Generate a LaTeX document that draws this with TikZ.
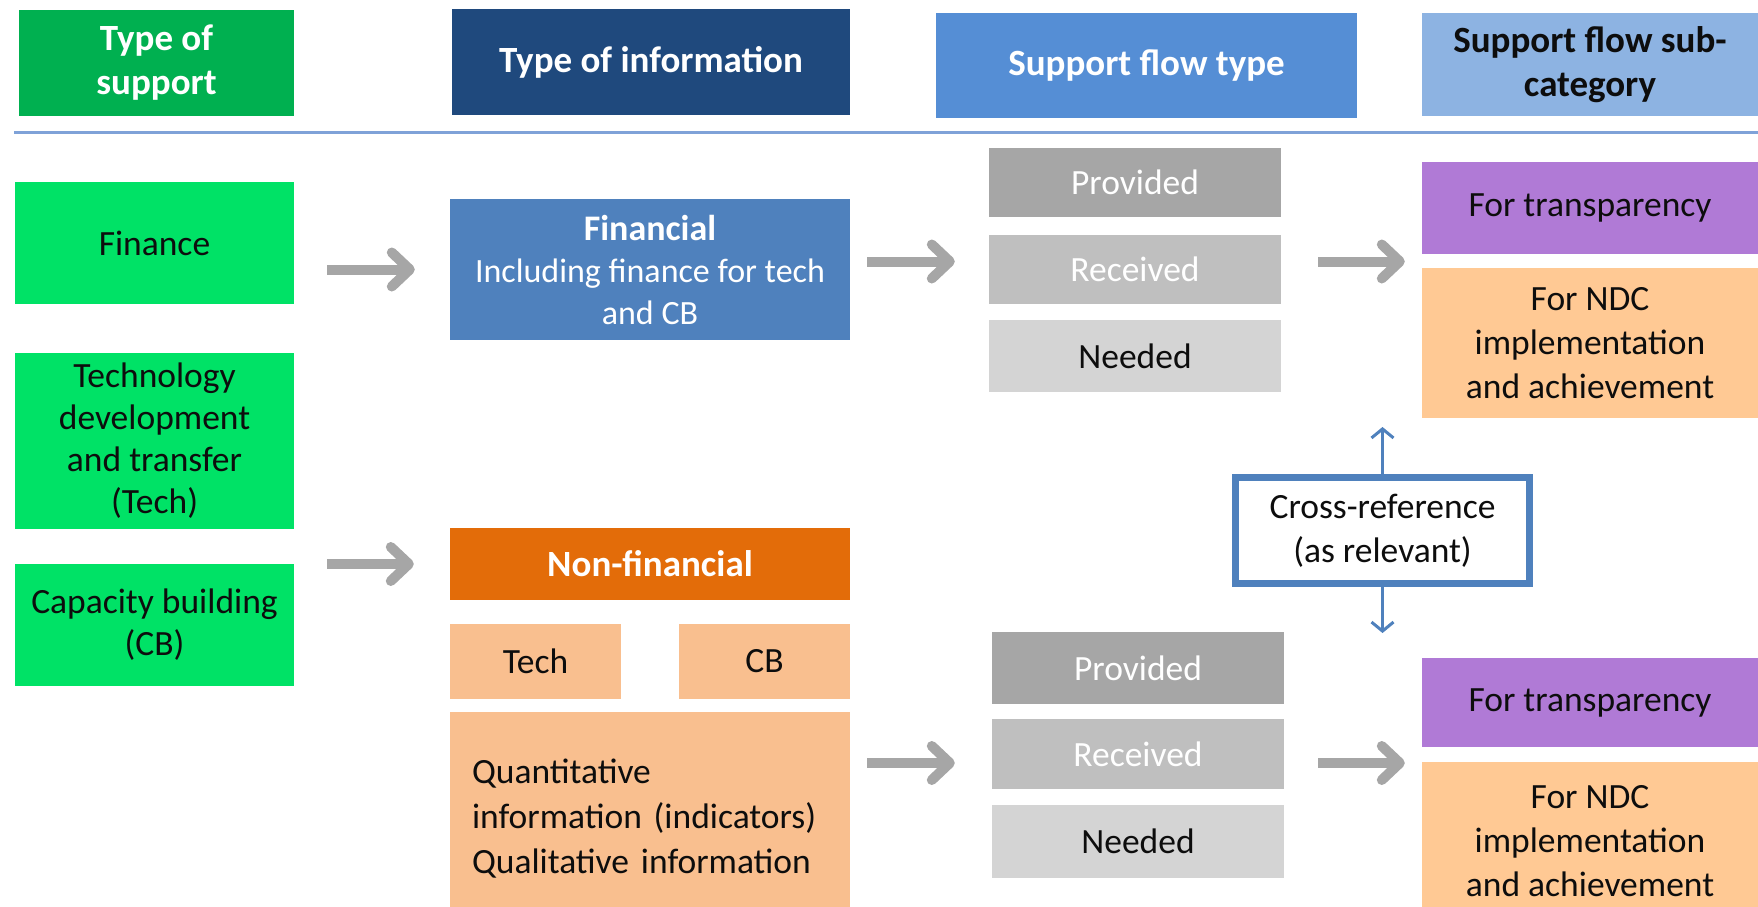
\documentclass[tikz,border=0pt]{standalone}
\usepackage{fontspec}
\setmainfont{Carlito}
\usetikzlibrary{arrows.meta,calc}
\definecolor{hdrgreen}{HTML}{00B050}
\definecolor{hdrdark}{HTML}{1F497D}
\definecolor{hdrmid}{HTML}{558ED5}
\definecolor{hdrlight}{HTML}{8DB3E2}
\definecolor{brgreen}{HTML}{00E266}
\definecolor{finblue}{HTML}{4F81BD}
\definecolor{nforange}{HTML}{E36C09}
\definecolor{peach}{HTML}{F9BF8F}
\definecolor{ndcpeach}{HTML}{FFC994}
\definecolor{purp}{HTML}{B07AD6}
\definecolor{gprov}{HTML}{A6A6A6}
\definecolor{grec}{HTML}{BFBFBF}
\definecolor{gneed}{HTML}{D4D4D4}
\definecolor{arrgray}{HTML}{A6A6A6}
\definecolor{sepblue}{HTML}{7FA2D8}
\definecolor{txt}{HTML}{0D0D0D}
\begin{document}
\begin{tikzpicture}[x=1pt,y=-1pt,
  font=\fontsize{35.5}{44}\selectfont,
  bx/.style={rectangle, inner sep=0pt, align=center, text=txt},
  hdr/.style={bx, font=\fontsize{37}{44}\selectfont\bfseries, text=white},
  tight/.style={font=\fontsize{35.5}{42}\selectfont},
  garrow/.style={draw=arrgray, line width=10pt, -{Straight Barb[length=18pt,width=34pt,round]}},
  barrow/.style={draw=finblue, line width=3pt, -{Straight Barb[length=9pt,width=22pt]}}
]
\useasboundingbox (0,0) rectangle (1758,907);

% headers
\node[hdr, fill=hdrgreen, minimum width=275, minimum height=106] (tos) at (156.5,63) {Type of\\support};
\node[hdr, fill=hdrdark, minimum width=398, minimum height=106] (toi) at (651,62) {Type of information};
\node[hdr, fill=hdrmid, minimum width=421, minimum height=105] (sft) at (1146.5,65.5) {Support flow type};
\node[hdr, fill=hdrlight, text=txt, minimum width=336, minimum height=103] (sfs) at (1590,64.5) {Support flow sub-\\category};

\coordinate (sepL) at (14,132);
\coordinate (sepR) at (1758,132);
\draw[line width=3pt, sepblue] (sepL) -- (sepR);

% type of support
\node[bx, fill=brgreen, minimum width=279, minimum height=122] (fin) at (154.5,243) {Finance};
\node[bx, tight, fill=brgreen, minimum width=279, minimum height=176] (tech) at (154.5,441) {Technology\\development\\and transfer\\(Tech)};
\node[bx, tight, fill=brgreen, minimum width=279, minimum height=122] (cb) at (154.5,625) {Capacity building\\(CB)};

% type of information
\node[bx, fill=finblue, text=white, minimum width=400, minimum height=141,
  font=\fontsize{34}{42}\selectfont] (financial) at (650,269.5)
  {{\fontsize{36}{42}\selectfont\bfseries Financial}\\Including finance for tech\\and CB};
\node[hdr, fill=nforange, minimum width=400, minimum height=72] (nonfin) at (650,564) {Non-financial};
\node[bx, fill=peach, minimum width=171, minimum height=75] (techs) at (535.5,661.5) {Tech};
\node[bx, fill=peach, minimum width=171, minimum height=75] (cbs) at (764.5,661.5) {CB};
\node[bx, fill=peach, align=left, inner xsep=22pt, text width=356pt, minimum height=195,
  font=\fontsize{35.5}{45}\selectfont] (quant) at (650,809.5)
  {\rule{0pt}{43pt}Quantitative\\information (indicators)\\Qualitative information};

% support flow type (top)
\node[bx, fill=gprov, text=white, minimum width=292, minimum height=69] (prov1) at (1135,182.5) {Provided};
\node[bx, fill=grec, text=white, minimum width=292, minimum height=69] (rec1) at (1135,269.5) {Received};
\node[bx, fill=gneed, minimum width=292, minimum height=72] (need1) at (1135,356) {Needed};

% support flow type (bottom)
\node[bx, fill=gprov, text=white, minimum width=292, minimum height=72] (prov2) at (1138,668) {Provided};
\node[bx, fill=grec, text=white, minimum width=292, minimum height=70] (rec2) at (1138,754) {Received};
\node[bx, fill=gneed, minimum width=292, minimum height=73] (need2) at (1138,841.5) {Needed};

% sub-categories
\node[bx, fill=purp, minimum width=336, minimum height=92] (ft1) at (1590,208) {For transparency};
\node[bx, fill=ndcpeach, minimum width=336, minimum height=150] (ndc1) at (1590,343) {For NDC\\implementation\\and achievement};
\node[bx, fill=purp, minimum width=336, minimum height=89] (ft2) at (1590,702.5) {For transparency};
\node[bx, fill=ndcpeach, minimum width=336, minimum height=145] (ndc2) at (1590,834.5)
  {\rule{0pt}{37pt}For NDC\\implementation\\and achievement};

% cross reference
\node[bx, draw=finblue, line width=7pt, fill=white, minimum width=294, minimum height=106] (cross) at (1382.5,530.5)
  {Cross-reference\\(as relevant)};
\coordinate (uptip) at ($(cross.north)+(0,-47)$);
\coordinate (dntip) at ($(cross.south)+(0,46)$);
\draw[barrow] (cross.north) -- (uptip);
\draw[barrow] (cross.south) -- (dntip);

% gray arrows
\draw[garrow] ($(fin.east |- financial.west)+(33,0)$) -- ($(financial.west)+(-35,0)$);
\draw[garrow] ($(cb.east |- nonfin.west)+(33,0)$) -- ($(nonfin.west)+(-36,0)$);
\draw[garrow] ($(financial.east)+(17,-8)$) -- ($(rec1.west)+(-34,-8)$);
\draw[garrow] ($(rec1.east)+(37,-8)$) -- ($(ft1.west |- rec1.west)+(-17,-8)$);
\draw[garrow] ($(quant.east |- rec2.west)+(17,9)$) -- ($(rec2.west)+(-37,9)$);
\draw[garrow] ($(rec2.east)+(34,9)$) -- ($(ndc2.west |- rec2.west)+(-17,9)$);
\end{tikzpicture}
\end{document}
